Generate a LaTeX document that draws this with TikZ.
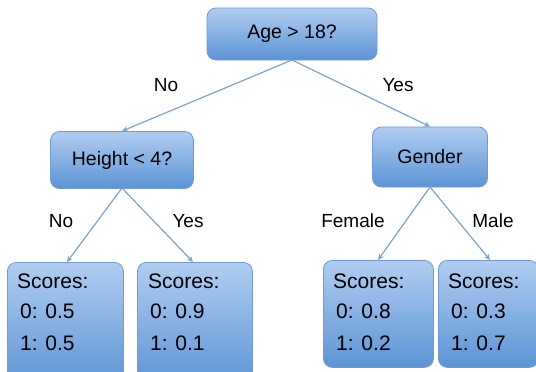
\documentclass[tikz,border=0pt]{standalone}
\usepackage{fontspec}
\setmainfont{Liberation Sans}
\usetikzlibrary{arrows.meta}
\definecolor{boxtop}{HTML}{B0CDF0}
\definecolor{boxbot}{HTML}{5C93D5}
\definecolor{boxline}{HTML}{6E9BD2}
\definecolor{edgecol}{HTML}{7CA3CF}
\tikzset{
  box/.style={draw=boxline, line width=0.8pt, rounded corners=9pt, top color=boxtop, bottom color=boxbot, inner sep=0pt},
  edge/.style={draw=edgecol, line width=1.2pt, -{Stealth[length=6pt,width=5.5pt]}},
  lbl/.style={font=\fontsize{19}{22}\selectfont, inner sep=0pt},
  txt/.style={font=\fontsize{21}{24}\selectfont, inner sep=0pt, anchor=base west}
}
\begin{document}
\begin{tikzpicture}[x=1pt,y=-1pt]
\clip (0,0) rectangle (536,372);
% internal nodes
\node[box, minimum width=170, minimum height=52, font=\fontsize{19.5}{22}\selectfont] (root) at (292,34) {Age > 18?};
\node[box, minimum width=143, minimum height=57, font=\fontsize{19.5}{22}\selectfont] (height) at (122,160) {Height < 4?};
\node[box, minimum width=115, minimum height=60, font=\fontsize{19.5}{22}\selectfont] (gender) at (430,157) {Gender};
% leaves
\node[box, minimum width=116, minimum height=125, anchor=north west] (l1) at (7,262) {};
\node[box, minimum width=115, minimum height=125, anchor=north west] (l2) at (137,262) {};
\node[box, minimum width=110, minimum height=107, anchor=north west] (l3) at (323,260) {};
\node[box, minimum width=100, minimum height=107, anchor=north west] (l4) at (438,260) {};
% leaf texts
\node[txt] (l1a) at (17,288) {Scores:};
\node[txt] (l1b) at (20,318) {0: 0.5};
\node[txt] (l1c) at (20,350) {1: 0.5};
\node[txt] (l2a) at (148,288) {Scores:};
\node[txt] (l2b) at (150,318) {0: 0.9};
\node[txt] (l2c) at (150,350) {1: 0.1};
\node[txt] (l3a) at (333,288) {Scores:};
\node[txt] (l3b) at (336,318) {0: 0.8};
\node[txt] (l3c) at (336,350) {1: 0.2};
\node[txt] (l4a) at (448,288) {Scores:};
\node[txt] (l4b) at (451,318) {0: 0.3};
\node[txt] (l4c) at (451,350) {1: 0.7};
% edges
\coordinate (rootb) at (292,60);
\coordinate (heightb) at (122,188);
\coordinate (genderb) at (430,187);
\draw[edge] (rootb) -- (height.north);
\draw[edge] (rootb) -- (gender.north);
\draw[edge] (heightb) -- (67,262);
\draw[edge] (heightb) -- (193,262);
\draw[edge] (genderb) -- (378,260);
\draw[edge] (genderb) -- (490,260);
% labels
\node[lbl] (no1) at (166,85) {No};
\node[lbl] (yes1) at (398,85) {Yes};
\node[lbl] (no2) at (61,221) {No};
\node[lbl] (yes2) at (188,221) {Yes};
\node[lbl] (fem) at (353,221) {Female};
\node[lbl] (male) at (493,221) {Male};
\end{tikzpicture}
\end{document}
